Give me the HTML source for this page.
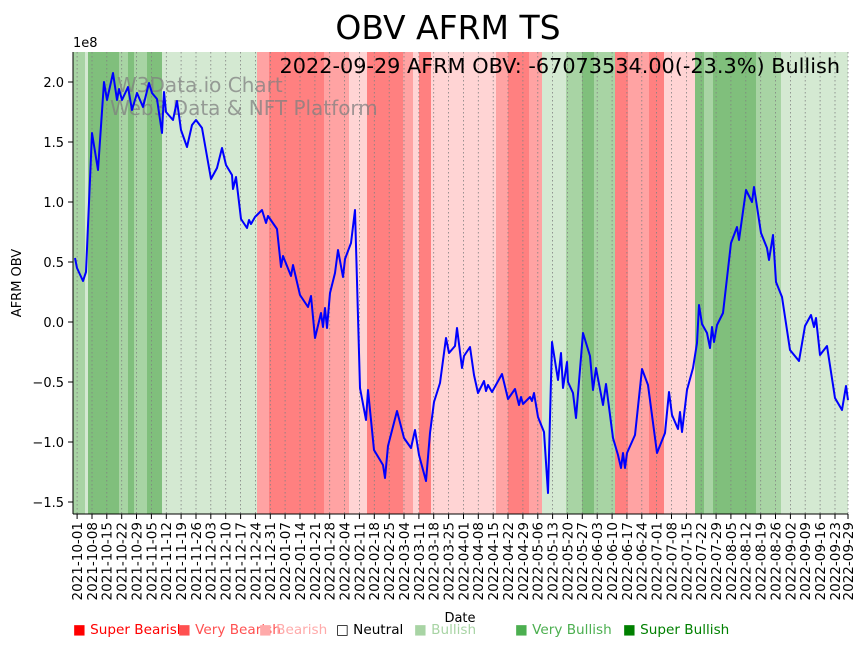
<!DOCTYPE html>
<html><head><meta charset="utf-8"><style>
html,body{margin:0;padding:0;background:#fff;}
svg{display:block;font-family:"DejaVu Sans","Liberation Sans",sans-serif;}
</style></head><body>
<svg width="867" height="646" viewBox="0 0 867 646" xmlns="http://www.w3.org/2000/svg">
<g stroke="none">
<rect x="73" y="52" width="12" height="462" fill="#a8d4a4"/>
<rect x="85" y="52" width="3" height="462" fill="#d4e9d2"/>
<rect x="88" y="52" width="31" height="462" fill="#80bf7c"/>
<rect x="119" y="52" width="9" height="462" fill="#a8d4a4"/>
<rect x="128" y="52" width="6" height="462" fill="#80bf7c"/>
<rect x="134" y="52" width="13" height="462" fill="#a8d4a4"/>
<rect x="147" y="52" width="15" height="462" fill="#80bf7c"/>
<rect x="162" y="52" width="95" height="462" fill="#d4e9d2"/>
<rect x="257" y="52" width="12" height="462" fill="#ffa3a3"/>
<rect x="269" y="52" width="55" height="462" fill="#ff8080"/>
<rect x="324" y="52" width="25" height="462" fill="#ffa3a3"/>
<rect x="349" y="52" width="18" height="462" fill="#ffd4d4"/>
<rect x="367" y="52" width="36" height="462" fill="#ff8080"/>
<rect x="403" y="52" width="10" height="462" fill="#ffa3a3"/>
<rect x="413" y="52" width="6" height="462" fill="#ffd4d4"/>
<rect x="419" y="52" width="12" height="462" fill="#ff8080"/>
<rect x="431" y="52" width="65" height="462" fill="#ffd4d4"/>
<rect x="496" y="52" width="12" height="462" fill="#ffa3a3"/>
<rect x="508" y="52" width="21" height="462" fill="#ff8080"/>
<rect x="529" y="52" width="13" height="462" fill="#ffa3a3"/>
<rect x="542" y="52" width="24" height="462" fill="#d4e9d2"/>
<rect x="566" y="52" width="16" height="462" fill="#a8d4a4"/>
<rect x="582" y="52" width="12" height="462" fill="#80bf7c"/>
<rect x="594" y="52" width="21" height="462" fill="#a8d4a4"/>
<rect x="615" y="52" width="13" height="462" fill="#ff8080"/>
<rect x="628" y="52" width="21" height="462" fill="#ffa3a3"/>
<rect x="649" y="52" width="15" height="462" fill="#ff8080"/>
<rect x="664" y="52" width="31" height="462" fill="#ffd4d4"/>
<rect x="695" y="52" width="9" height="462" fill="#80bf7c"/>
<rect x="704" y="52" width="9" height="462" fill="#a8d4a4"/>
<rect x="713" y="52" width="43" height="462" fill="#80bf7c"/>
<rect x="756" y="52" width="25" height="462" fill="#a8d4a4"/>
<rect x="781" y="52" width="67" height="462" fill="#d4e9d2"/>
</g>
<g stroke="#808080" stroke-width="0.8" stroke-dasharray="1.5,2.5">
<line x1="77.1" y1="52" x2="77.1" y2="514"/><line x1="92" y1="52" x2="92" y2="514"/><line x1="106.8" y1="52" x2="106.8" y2="514"/><line x1="121.7" y1="52" x2="121.7" y2="514"/><line x1="136.5" y1="52" x2="136.5" y2="514"/><line x1="151.4" y1="52" x2="151.4" y2="514"/><line x1="166.3" y1="52" x2="166.3" y2="514"/><line x1="181.1" y1="52" x2="181.1" y2="514"/><line x1="196" y1="52" x2="196" y2="514"/><line x1="210.8" y1="52" x2="210.8" y2="514"/><line x1="225.7" y1="52" x2="225.7" y2="514"/><line x1="240.6" y1="52" x2="240.6" y2="514"/><line x1="255.4" y1="52" x2="255.4" y2="514"/><line x1="270.3" y1="52" x2="270.3" y2="514"/><line x1="285.1" y1="52" x2="285.1" y2="514"/><line x1="300" y1="52" x2="300" y2="514"/><line x1="314.9" y1="52" x2="314.9" y2="514"/><line x1="329.7" y1="52" x2="329.7" y2="514"/><line x1="344.6" y1="52" x2="344.6" y2="514"/><line x1="359.4" y1="52" x2="359.4" y2="514"/><line x1="374.3" y1="52" x2="374.3" y2="514"/><line x1="389.2" y1="52" x2="389.2" y2="514"/><line x1="404" y1="52" x2="404" y2="514"/><line x1="418.9" y1="52" x2="418.9" y2="514"/><line x1="433.7" y1="52" x2="433.7" y2="514"/><line x1="448.6" y1="52" x2="448.6" y2="514"/><line x1="463.5" y1="52" x2="463.5" y2="514"/><line x1="478.3" y1="52" x2="478.3" y2="514"/><line x1="493.2" y1="52" x2="493.2" y2="514"/><line x1="508" y1="52" x2="508" y2="514"/><line x1="522.9" y1="52" x2="522.9" y2="514"/><line x1="537.8" y1="52" x2="537.8" y2="514"/><line x1="552.6" y1="52" x2="552.6" y2="514"/><line x1="567.5" y1="52" x2="567.5" y2="514"/><line x1="582.3" y1="52" x2="582.3" y2="514"/><line x1="597.2" y1="52" x2="597.2" y2="514"/><line x1="612.1" y1="52" x2="612.1" y2="514"/><line x1="626.9" y1="52" x2="626.9" y2="514"/><line x1="641.8" y1="52" x2="641.8" y2="514"/><line x1="656.6" y1="52" x2="656.6" y2="514"/><line x1="671.5" y1="52" x2="671.5" y2="514"/><line x1="686.4" y1="52" x2="686.4" y2="514"/><line x1="701.2" y1="52" x2="701.2" y2="514"/><line x1="716.1" y1="52" x2="716.1" y2="514"/><line x1="730.9" y1="52" x2="730.9" y2="514"/><line x1="745.8" y1="52" x2="745.8" y2="514"/><line x1="760.7" y1="52" x2="760.7" y2="514"/><line x1="775.5" y1="52" x2="775.5" y2="514"/><line x1="790.4" y1="52" x2="790.4" y2="514"/><line x1="805.2" y1="52" x2="805.2" y2="514"/><line x1="820.1" y1="52" x2="820.1" y2="514"/><line x1="835" y1="52" x2="835" y2="514"/><line x1="848" y1="52" x2="848" y2="514"/>
</g>
<g fill="#808080" fill-opacity="0.75" font-size="20">
<text x="117" y="92">W3Data.io Chart</text>
<text x="110" y="115">Web3 Data &amp; NFT Platform</text>
</g>
<polyline fill="none" stroke="#0000ff" stroke-width="2" stroke-linejoin="round" points="75,258 77,268 83,281 86,272 92,133 98,170 104,82 107,100 113,73 117,100 119,89 122,100 128,87 132,110 137,93 143,107 149,83 152,93 157,99 162,133 164,92 166,112 173,120 177,101 181,130 187,147 192,125 196,120 202,128 211,179 217,168 222,148 226,165 232,175 233,189 236,177 241,219 247,228 249,220 251,224 255,217 262,210 266,223 268,216 277,229 281,267 283,256 291,276 293,265 300,295 308,307 311,296 315,338 321,313 323,327 325,308 327,328 330,293 335,273 338,250 343,277 345,259 351,243 355,210 360,388 366,420 368,390 374,450 383,465 385,478 388,446 397,411 404,438 411,448 415,430 419,455 426,481 430,433 434,402 440,383 446,338 449,353 455,346 457,328 462,368 464,356 470,347 474,375 478,393 484,381 486,391 488,385 492,392 502,374 508,399 515,389 519,405 521,397 523,404 530,397 532,401 534,393 538,417 544,432 548,493 552,342 558,380 561,353 563,388 567,362 568,382 573,393 576,418 583,333 590,356 593,390 596,368 603,405 606,384 613,438 618,455 621,468 623,453 625,468 627,453 635,435 642,369 648,385 657,453 665,433 669,392 672,415 678,429 680,412 682,432 687,390 693,368 697,343 699,305 702,324 707,333 710,348 712,327 714,342 717,325 723,313 731,243 737,227 739,240 746,190 752,202 754,187 761,233 767,248 769,260 773,235 776,282 782,297 790,350 799,361 805,326 811,315 814,327 816,318 820,355 827,346 835,398 842,410 846,386 848,400"/>
<line x1="73" y1="52" x2="73" y2="514" stroke="#000" stroke-width="1"/>
<line x1="73" y1="514" x2="848" y2="514" stroke="#000" stroke-width="1"/>
<g stroke="#000"><line x1="68" y1="82" x2="73" y2="82"/><line x1="68" y1="142" x2="73" y2="142"/><line x1="68" y1="202" x2="73" y2="202"/><line x1="68" y1="262" x2="73" y2="262"/><line x1="68" y1="322" x2="73" y2="322"/><line x1="68" y1="382" x2="73" y2="382"/><line x1="68" y1="442" x2="73" y2="442"/><line x1="68" y1="502" x2="73" y2="502"/></g>
<g font-size="13" text-anchor="end" fill="#000">
<text x="64" y="87">2.0</text><text x="64" y="147">1.5</text><text x="64" y="207">1.0</text><text x="64" y="267">0.5</text><text x="64" y="327">0.0</text><text x="64" y="387">−0.5</text><text x="64" y="447">−1.0</text><text x="64" y="507">−1.5</text>
</g>
<text x="73" y="47" font-size="13">1e8</text>
<text transform="translate(21,283) rotate(-90)" font-size="13" text-anchor="middle">AFRM OBV</text>
<g stroke="#000">
<line x1="77.1" y1="514" x2="77.1" y2="519"/><line x1="92" y1="514" x2="92" y2="519"/><line x1="106.8" y1="514" x2="106.8" y2="519"/><line x1="121.7" y1="514" x2="121.7" y2="519"/><line x1="136.5" y1="514" x2="136.5" y2="519"/><line x1="151.4" y1="514" x2="151.4" y2="519"/><line x1="166.3" y1="514" x2="166.3" y2="519"/><line x1="181.1" y1="514" x2="181.1" y2="519"/><line x1="196" y1="514" x2="196" y2="519"/><line x1="210.8" y1="514" x2="210.8" y2="519"/><line x1="225.7" y1="514" x2="225.7" y2="519"/><line x1="240.6" y1="514" x2="240.6" y2="519"/><line x1="255.4" y1="514" x2="255.4" y2="519"/><line x1="270.3" y1="514" x2="270.3" y2="519"/><line x1="285.1" y1="514" x2="285.1" y2="519"/><line x1="300" y1="514" x2="300" y2="519"/><line x1="314.9" y1="514" x2="314.9" y2="519"/><line x1="329.7" y1="514" x2="329.7" y2="519"/><line x1="344.6" y1="514" x2="344.6" y2="519"/><line x1="359.4" y1="514" x2="359.4" y2="519"/><line x1="374.3" y1="514" x2="374.3" y2="519"/><line x1="389.2" y1="514" x2="389.2" y2="519"/><line x1="404" y1="514" x2="404" y2="519"/><line x1="418.9" y1="514" x2="418.9" y2="519"/><line x1="433.7" y1="514" x2="433.7" y2="519"/><line x1="448.6" y1="514" x2="448.6" y2="519"/><line x1="463.5" y1="514" x2="463.5" y2="519"/><line x1="478.3" y1="514" x2="478.3" y2="519"/><line x1="493.2" y1="514" x2="493.2" y2="519"/><line x1="508" y1="514" x2="508" y2="519"/><line x1="522.9" y1="514" x2="522.9" y2="519"/><line x1="537.8" y1="514" x2="537.8" y2="519"/><line x1="552.6" y1="514" x2="552.6" y2="519"/><line x1="567.5" y1="514" x2="567.5" y2="519"/><line x1="582.3" y1="514" x2="582.3" y2="519"/><line x1="597.2" y1="514" x2="597.2" y2="519"/><line x1="612.1" y1="514" x2="612.1" y2="519"/><line x1="626.9" y1="514" x2="626.9" y2="519"/><line x1="641.8" y1="514" x2="641.8" y2="519"/><line x1="656.6" y1="514" x2="656.6" y2="519"/><line x1="671.5" y1="514" x2="671.5" y2="519"/><line x1="686.4" y1="514" x2="686.4" y2="519"/><line x1="701.2" y1="514" x2="701.2" y2="519"/><line x1="716.1" y1="514" x2="716.1" y2="519"/><line x1="730.9" y1="514" x2="730.9" y2="519"/><line x1="745.8" y1="514" x2="745.8" y2="519"/><line x1="760.7" y1="514" x2="760.7" y2="519"/><line x1="775.5" y1="514" x2="775.5" y2="519"/><line x1="790.4" y1="514" x2="790.4" y2="519"/><line x1="805.2" y1="514" x2="805.2" y2="519"/><line x1="820.1" y1="514" x2="820.1" y2="519"/><line x1="835" y1="514" x2="835" y2="519"/><line x1="848" y1="514" x2="848" y2="519"/>
</g>
<g font-size="13.5" text-anchor="end" fill="#000">
<text transform="translate(82,522) rotate(-90)">2021-10-01</text>
<text transform="translate(96.9,522) rotate(-90)">2021-10-08</text>
<text transform="translate(111.7,522) rotate(-90)">2021-10-15</text>
<text transform="translate(126.6,522) rotate(-90)">2021-10-22</text>
<text transform="translate(141.4,522) rotate(-90)">2021-10-29</text>
<text transform="translate(156.3,522) rotate(-90)">2021-11-05</text>
<text transform="translate(171.2,522) rotate(-90)">2021-11-12</text>
<text transform="translate(186,522) rotate(-90)">2021-11-19</text>
<text transform="translate(200.9,522) rotate(-90)">2021-11-26</text>
<text transform="translate(215.7,522) rotate(-90)">2021-12-03</text>
<text transform="translate(230.6,522) rotate(-90)">2021-12-10</text>
<text transform="translate(245.5,522) rotate(-90)">2021-12-17</text>
<text transform="translate(260.3,522) rotate(-90)">2021-12-24</text>
<text transform="translate(275.2,522) rotate(-90)">2021-12-31</text>
<text transform="translate(290,522) rotate(-90)">2022-01-07</text>
<text transform="translate(304.9,522) rotate(-90)">2022-01-14</text>
<text transform="translate(319.8,522) rotate(-90)">2022-01-21</text>
<text transform="translate(334.6,522) rotate(-90)">2022-01-28</text>
<text transform="translate(349.5,522) rotate(-90)">2022-02-04</text>
<text transform="translate(364.3,522) rotate(-90)">2022-02-11</text>
<text transform="translate(379.2,522) rotate(-90)">2022-02-18</text>
<text transform="translate(394.1,522) rotate(-90)">2022-02-25</text>
<text transform="translate(408.9,522) rotate(-90)">2022-03-04</text>
<text transform="translate(423.8,522) rotate(-90)">2022-03-11</text>
<text transform="translate(438.6,522) rotate(-90)">2022-03-18</text>
<text transform="translate(453.5,522) rotate(-90)">2022-03-25</text>
<text transform="translate(468.4,522) rotate(-90)">2022-04-01</text>
<text transform="translate(483.2,522) rotate(-90)">2022-04-08</text>
<text transform="translate(498.1,522) rotate(-90)">2022-04-15</text>
<text transform="translate(512.9,522) rotate(-90)">2022-04-22</text>
<text transform="translate(527.8,522) rotate(-90)">2022-04-29</text>
<text transform="translate(542.7,522) rotate(-90)">2022-05-06</text>
<text transform="translate(557.5,522) rotate(-90)">2022-05-13</text>
<text transform="translate(572.4,522) rotate(-90)">2022-05-20</text>
<text transform="translate(587.2,522) rotate(-90)">2022-05-27</text>
<text transform="translate(602.1,522) rotate(-90)">2022-06-03</text>
<text transform="translate(617,522) rotate(-90)">2022-06-10</text>
<text transform="translate(631.8,522) rotate(-90)">2022-06-17</text>
<text transform="translate(646.7,522) rotate(-90)">2022-06-24</text>
<text transform="translate(661.5,522) rotate(-90)">2022-07-01</text>
<text transform="translate(676.4,522) rotate(-90)">2022-07-08</text>
<text transform="translate(691.3,522) rotate(-90)">2022-07-15</text>
<text transform="translate(706.1,522) rotate(-90)">2022-07-22</text>
<text transform="translate(721,522) rotate(-90)">2022-07-29</text>
<text transform="translate(735.8,522) rotate(-90)">2022-08-05</text>
<text transform="translate(750.7,522) rotate(-90)">2022-08-12</text>
<text transform="translate(765.6,522) rotate(-90)">2022-08-19</text>
<text transform="translate(780.4,522) rotate(-90)">2022-08-26</text>
<text transform="translate(795.3,522) rotate(-90)">2022-09-02</text>
<text transform="translate(810.1,522) rotate(-90)">2022-09-09</text>
<text transform="translate(825,522) rotate(-90)">2022-09-16</text>
<text transform="translate(839.9,522) rotate(-90)">2022-09-23</text>
<text transform="translate(852.9,522) rotate(-90)">2022-09-29</text>
</g>
<text x="460" y="622" font-size="13" text-anchor="middle">Date</text>
<text x="448" y="39" font-size="33" text-anchor="middle">OBV AFRM TS</text>
<text x="840" y="73" font-size="20.8" text-anchor="end">2022-09-29 AFRM OBV: -67073534.00(-23.3%) Bullish</text>
<g font-size="13.6">
<text x="73" y="634" fill="#ff0000">■ Super Bearish</text>
<text x="178" y="634" fill="#ff5050">■ Very Bearish</text>
<text x="259" y="634" fill="#ffaaaa">■ Bearish</text>
<text x="336" y="634" fill="#000">□ Neutral</text>
<text x="414" y="634" fill="#a8d4a4">■ Bullish</text>
<text x="515" y="634" fill="#4caf50">■ Very Bullish</text>
<text x="623" y="634" fill="#008000">■ Super Bullish</text>
</g>
</svg>
</body></html>
